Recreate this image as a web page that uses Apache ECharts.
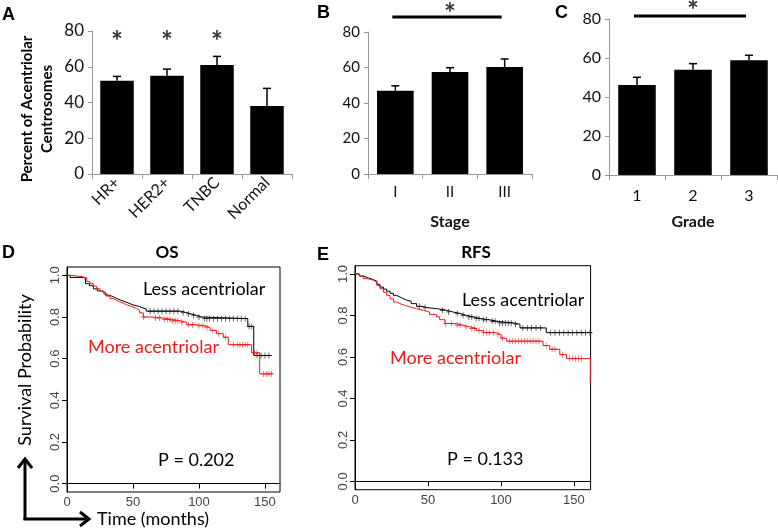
<!DOCTYPE html>
<html><head><meta charset="utf-8">
<script src="https://cdn.jsdelivr.net/npm/echarts@6/dist/echarts.min.js"></script>
<style>html,body{margin:0;padding:0;background:#fff}#c{width:778px;height:529px}</style>
</head><body><div id="c"></div>
<script>
// ---- Panel A ----
const catA = ['HR+','HER2+','TNBC','Normal'];
const valA = [52.2, 55.0, 61.0, 38.0];
const errA = [2.4, 3.7, 4.8, 9.9];
const starA = [[0,74],[1,74],[2,74]];
// ---- Panel B ----
const catB = ['I','II','III'];
const valB = [46.9, 57.5, 60.3];
const errB = [2.8, 2.4, 4.5];
const sigB = [[0, 2, 88.5]];
const starB = [[1, 90]];
// ---- Panel C ----
const catC = ['1','2','3'];
const valC = [46.2, 54.0, 58.8];
const errC = [3.9, 3.1, 2.6];
const sigC = [[0, 2, 81.5]];
const starC = [[1, 84]];
const barYTicks = [0,20,40,60,80];
// ---- Panel D (OS) ----
const osLess = [[0,1],[2.3,0.99],[12.4,0.985],[14,0.96],[17,0.95],[20,0.935],[23,0.925],[26,0.918],[29,0.905],[32,0.897],[35,0.888],[38,0.88],[41,0.873],[44,0.866],[47,0.858],[50,0.852],[54,0.845],[57,0.838],[60,0.828],[86,0.822],[90,0.815],[94,0.808],[98,0.8],[102,0.792],[137,0.755],[141.5,0.615],[155,0.615]];
const osMore = [[0,1],[3,0.993],[12,0.987],[15,0.97],[17.4,0.96],[20,0.948],[22.5,0.936],[25,0.925],[27.5,0.912],[30,0.9],[32.6,0.888],[35,0.88],[37.6,0.872],[40,0.866],[42.7,0.859],[45,0.853],[47.7,0.848],[50,0.84],[52.8,0.832],[55,0.82],[57.8,0.8],[66,0.795],[73,0.788],[80,0.782],[86,0.775],[90.7,0.763],[98,0.758],[104,0.75],[108.4,0.736],[113.4,0.72],[118.4,0.703],[122.2,0.667],[139.9,0.628],[146,0.527],[156,0.527]];
const osLessCens = [[63,0.828],[66,0.828],[69,0.828],[72,0.828],[75,0.828],[78,0.828],[81,0.828],[84,0.828],[88,0.822],[92,0.815],[96,0.808],[100,0.8],[104,0.792],[106,0.792],[108,0.792],[111,0.792],[114,0.792],[117,0.792],[120,0.792],[123,0.792],[126,0.792],[129,0.792],[132,0.792],[135,0.792],[138,0.755],[140,0.755],[144,0.615],[147,0.615],[150,0.615],[153,0.615]];
const osMoreCens = [[58,0.8],[67,0.795],[70,0.795],[74,0.788],[76,0.788],[78,0.788],[80,0.782],[82,0.782],[84,0.782],[87,0.775],[92,0.763],[95,0.763],[100,0.758],[103,0.758],[106,0.75],[110,0.736],[115,0.72],[120,0.703],[126,0.667],[129,0.667],[131,0.667],[133,0.667],[135,0.667],[137,0.667],[142,0.628],[144,0.628],[149,0.527],[151,0.527],[153,0.527],[155,0.527]];
// ---- Panel E (RFS) ----
const rfsLess = [[0,1],[3,0.99],[5.7,0.981],[9,0.973],[12.6,0.965],[15,0.95],[17.1,0.937],[19.5,0.927],[21.7,0.917],[24,0.907],[26.3,0.897],[28.5,0.889],[30.8,0.881],[33,0.874],[35.4,0.868],[38.5,0.857],[42.2,0.844],[46,0.838],[49.1,0.833],[56,0.825],[62.8,0.817],[67,0.81],[71.9,0.801],[76,0.793],[81,0.785],[86,0.779],[92.5,0.772],[97,0.764],[108.4,0.758],[113,0.74],[131,0.717],[164,0.717]];
const rfsMore = [[0,1],[3,0.99],[5.7,0.977],[9,0.97],[12.6,0.961],[15,0.945],[17.1,0.929],[19.5,0.912],[21.7,0.897],[24,0.88],[26.3,0.865],[28.5,0.857],[30.8,0.849],[34,0.841],[37.7,0.833],[42,0.825],[46.8,0.817],[51,0.805],[55.9,0.793],[58,0.78],[61.6,0.761],[69.6,0.753],[74,0.745],[78.8,0.737],[83,0.727],[87.9,0.717],[97,0.708],[100,0.69],[103.9,0.676],[128.8,0.655],[133.4,0.637],[140.3,0.611],[144.9,0.592],[161.2,0.475]];
const rfsLessCens = [[44,0.844],[48,0.838],[60,0.825],[64,0.817],[70,0.81],[74,0.801],[78,0.793],[80,0.793],[83,0.785],[85,0.785],[88,0.779],[90,0.779],[94,0.772],[96,0.772],[99,0.764],[101,0.764],[103,0.764],[105,0.764],[107,0.764],[110,0.758],[115,0.74],[118,0.74],[121,0.74],[124,0.74],[127,0.74],[134,0.717],[137,0.717],[140,0.717],[143,0.717],[146,0.717],[149,0.717],[152,0.717],[155,0.717],[158,0.717],[161,0.717]];
const rfsMoreCens = [[62,0.761],[66,0.761],[70,0.753],[72,0.753],[76,0.745],[80,0.737],[82,0.737],[85,0.727],[88,0.717],[90,0.717],[92,0.717],[95,0.717],[98,0.708],[101,0.69],[106,0.676],[108,0.676],[110,0.676],[112,0.676],[114,0.676],[116,0.676],[118,0.676],[120,0.676],[122,0.676],[124,0.676],[126,0.676],[131,0.655],[135,0.637],[137,0.637],[142,0.611],[147,0.592],[149,0.592],[151,0.592],[153,0.592],[155,0.592]];
const kmXTicks = [0,50,100,150];
const kmYTicks = [0,0.2,0.4,0.6,0.8,1.0];

const RED = '#ee1c1c';
const FONT = 'Lato';
const chart = echarts.init(document.getElementById('c'), null, {renderer:'canvas'});

function barX(idx, cats, fs, rotate, margin, name, gap) {
  return {
    gridIndex: idx, type: 'category', data: cats,
    axisLine: {lineStyle: {color: '#999', width: 1}},
    axisTick: {show: true, alignWithLabel: false, length: 5, lineStyle: {color: '#999'}},
    axisLabel: {color: '#111', fontFamily: FONT, fontSize: fs, rotate: rotate, margin: margin},
    name: name || '', nameLocation: 'middle', nameGap: gap || 40,
    nameTextStyle: {fontFamily: FONT, fontWeight: 'bold', fontSize: 16, color: '#111'}
  };
}
function barY(idx, fs) {
  return {
    gridIndex: idx, type: 'value', min: 0, max: 80, interval: 20,
    axisLine: {show: true, lineStyle: {color: '#999'}},
    axisTick: {show: true, length: 4, lineStyle: {color: '#999'}},
    axisLabel: {color: '#111', fontFamily: FONT, fontSize: fs, margin: 8},
    splitLine: {show: false}
  };
}
function kmX(idx) {
  return {
    gridIndex: idx, type: 'value', min: 0, max: 161.4,
    axisLine: {show: true, lineStyle: {color: '#000'}},
    axisTick: {show: true, length: 5, customValues: kmXTicks, lineStyle: {color: '#000'}},
    axisLabel: {customValues: kmXTicks, color: '#444', fontFamily: 'Liberation Sans', fontSize: 13, margin: 4},
    splitLine: {show: false}
  };
}
function kmY(idx) {
  return {
    gridIndex: idx, type: 'value', min: -0.04, max: 1.04,
    axisLine: {show: true, lineStyle: {color: '#000'}},
    axisTick: {show: true, length: 5, customValues: kmYTicks, lineStyle: {color: '#000'}},
    axisLabel: {customValues: kmYTicks, rotate: 90, color: '#444', fontFamily: 'Liberation Sans', fontSize: 13, margin: 5,
      formatter: v => Number(v).toFixed(1)},
    splitLine: {show: false}
  };
}
function errSeries(idx, vals, errs) {
  return {
    type: 'custom', xAxisIndex: idx, yAxisIndex: idx, z: 5,
    data: vals.map((v, i) => [i, v, errs[i]]),
    renderItem: (params, api) => {
      const base = api.coord([api.value(0), api.value(1)]);
      const top = api.coord([api.value(0), api.value(1) + api.value(2)]);
      const st = {stroke: '#000', lineWidth: 1.5};
      return {type: 'group', children: [
        {type: 'line', shape: {x1: base[0], y1: base[1], x2: top[0], y2: top[1]}, style: st},
        {type: 'line', shape: {x1: top[0] - 4, y1: top[1], x2: top[0] + 4, y2: top[1]}, style: st}
      ]};
    }
  };
}
function sigSeries(idx, data) {
  return {
    type: 'custom', xAxisIndex: idx, yAxisIndex: idx, clip: false, data: data,
    renderItem: (params, api) => {
      const a = api.coord([api.value(0), api.value(2)]);
      const b = api.coord([api.value(1), api.value(2)]);
      return {type: 'line', shape: {x1: a[0] - 3, y1: a[1], x2: b[0] - 3, y2: b[1]}, style: {stroke: '#000', lineWidth: 3}};
    }
  };
}
function starSeries(idx, data) {
  return {
    type: 'scatter', xAxisIndex: idx, yAxisIndex: idx, data: data, symbolSize: 1, clip: false,
    itemStyle: {color: 'rgba(0,0,0,0)'},
    label: {show: true, position: 'inside', formatter: '*', fontFamily: FONT, fontWeight: 'bold', fontSize: 28, color: '#000'}
  };
}
function barSeries(idx, vals) {
  return {type: 'bar', xAxisIndex: idx, yAxisIndex: idx, data: vals, barCategoryGap: '33%', itemStyle: {color: '#000'}};
}
function kmLine(idx, data, color) {
  return {type: 'line', xAxisIndex: idx, yAxisIndex: idx, data: data, step: 'end', showSymbol: false, symbol: 'none',
    lineStyle: {color: color, width: 1}, z: 3};
}
const plusPath = 'path://M4.3,0H5.7V10H4.3ZM0,4.3H10V5.7H0Z';
function kmCens(idx, data, color) {
  return {type: 'scatter', xAxisIndex: idx, yAxisIndex: idx, data: data, symbol: plusPath, symbolSize: [5, 6],
    itemStyle: {color: color}, z: 4};
}
function txt(x, y, s, opt) {
  return Object.assign({type: 'text', x: x, y: y, style: Object.assign({text: s, fontFamily: FONT, fontSize: 18, fill: '#000',
    textVerticalAlign: 'middle'}, opt || {})});
}
function letter(x, y, s) {
  return {type: 'text', x: x, y: y, style: {text: s, fontFamily: 'Liberation Sans', fontWeight: 'bold', fontSize: 18, fill: '#000', textVerticalAlign: 'top'}};
}

const option = {
  backgroundColor: '#fff',
  animation: false,
  grid: [
    {left: 92, top: 31, width: 200, height: 143},
    {left: 368, top: 32, width: 164, height: 142},
    {left: 609, top: 19, width: 168, height: 156},
    {left: 67, top: 267, width: 213, height: 225, show: true, borderColor: '#000', borderWidth: 1, backgroundColor: 'transparent'},
    {left: 355, top: 265.7, width: 235.6, height: 224, show: true, borderColor: '#000', borderWidth: 1, backgroundColor: 'transparent'}
  ],
  xAxis: [
    barX(0, catA, 16, 45, 6),
    barX(1, catB, 15, 0, 11, 'Stage', 40),
    barX(2, catC, 16, 0, 13, 'Grade', 39),
    kmX(3), kmX(4)
  ],
  yAxis: [barY(0, 17), barY(1, 15), barY(2, 16), kmY(3), kmY(4)],
  series: [
    barSeries(0, valA), errSeries(0, valA, errA), starSeries(0, starA),
    barSeries(1, valB), errSeries(1, valB, errB), sigSeries(1, sigB), starSeries(1, starB),
    barSeries(2, valC), errSeries(2, valC, errC), sigSeries(2, sigC), starSeries(2, starC),
    kmLine(3, osLess, '#000'), kmLine(3, osMore, RED), kmCens(3, osLessCens, '#000'), kmCens(3, osMoreCens, RED),
    kmLine(4, rfsLess, '#000'), kmLine(4, rfsMore, RED), kmCens(4, rfsLessCens, '#000'), kmCens(4, rfsMoreCens, RED)
  ],
  graphic: [
    letter(2, 6, 'A'), letter(317, 4, 'B'), letter(555, 4, 'C'), letter(2, 244, 'D'), letter(317, 246, 'E'),
    {type: 'text', x: 37, y: 109, rotation: Math.PI / 2,
      style: {text: 'Percent of Acentriolar\nCentrosomes', fontFamily: FONT, fontWeight: 'bold', fontSize: 15, lineHeight: 20,
        fill: '#000', textAlign: 'center', textVerticalAlign: 'middle'}},
    txt(167, 253, 'OS', {fontWeight: 'bold', fontSize: 17, textAlign: 'center'}),
    txt(476, 253, 'RFS', {fontWeight: 'bold', fontSize: 17, textAlign: 'center'}),
    txt(143, 289, 'Less acentriolar'),
    txt(88, 347, 'More acentriolar', {fill: RED}),
    txt(158, 460, 'P = 0.202'),
    txt(462, 300, 'Less acentriolar'),
    txt(390, 358, 'More acentriolar', {fill: RED}),
    txt(447, 459, 'P = 0.133'),
    {type: 'text', x: 25, y: 370, rotation: Math.PI / 2,
      style: {text: 'Survival Probability', fontFamily: FONT, fontSize: 18, fill: '#000', textAlign: 'center', textVerticalAlign: 'middle'}},
    txt(97, 519, 'Time (months)'),
    {type: 'polyline', shape: {points: [[25, 520], [25, 460]]}, style: {stroke: '#000', lineWidth: 3, fill: null}},
    {type: 'polyline', shape: {points: [[18, 468], [25, 459], [32, 468]]}, style: {stroke: '#000', lineWidth: 3, fill: null}},
    {type: 'polyline', shape: {points: [[23.5, 519], [88, 519]]}, style: {stroke: '#000', lineWidth: 3, fill: null}},
    {type: 'polyline', shape: {points: [[80, 512], [89, 519], [80, 526]]}, style: {stroke: '#000', lineWidth: 3, fill: null}}
  ]
};
chart.setOption(option);
</script>
</body></html>
